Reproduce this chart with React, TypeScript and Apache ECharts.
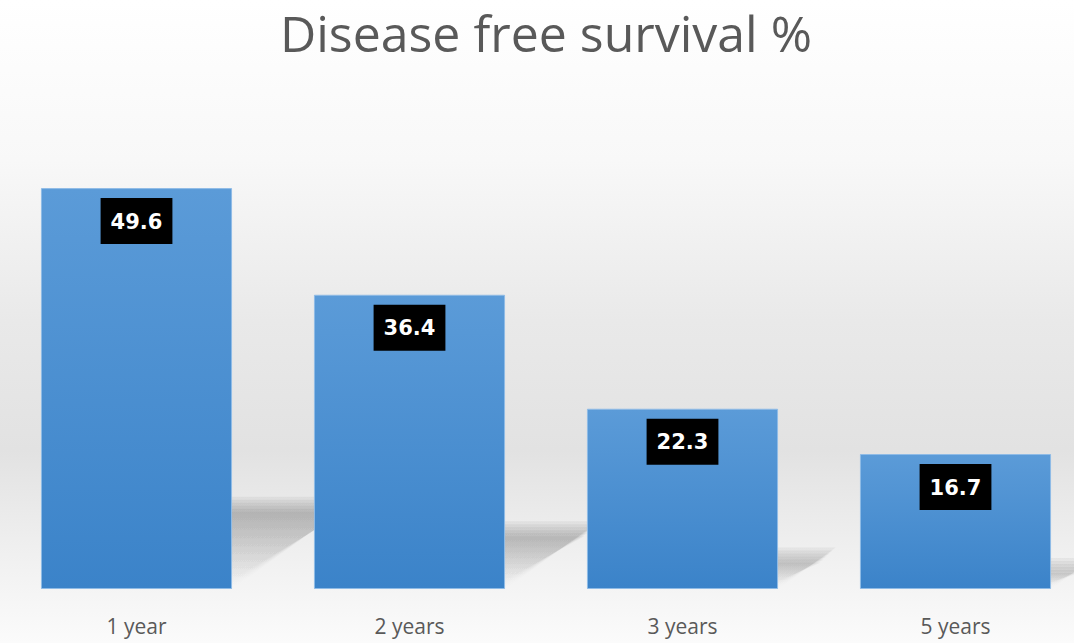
import React, { useEffect, useRef } from "react";
import * as echarts from "echarts";

const categories = ["1 year", "2 years", "3 years", "5 years"];
const values = [49.6, 36.4, 22.3, 16.7];
const titleText = "Disease free survival %";

export default function App() {
  const ref = useRef<HTMLDivElement>(null);
  useEffect(() => {
    const chart = echarts.init(ref.current!, undefined, { renderer: "svg" });
    chart.setOption({
      animation: false,
      backgroundColor: new echarts.graphic.LinearGradient(0, 0, 0, 1, [
        { offset: 0, color: "#ffffff" },
        { offset: 0.25, color: "#f8f8f8" },
        { offset: 0.5, color: "#e9e9e9" },
        { offset: 0.7, color: "#e2e2e2" },
        { offset: 0.85, color: "#efefef" },
        { offset: 1, color: "#fbfbfb" },
      ]),
      title: {
        text: titleText,
        left: "center",
        top: 3,
        textStyle: {
          fontFamily: "Open Sans",
          fontSize: 50,
          fontWeight: "normal",
          color: "#595959",
        },
      },
      grid: { left: 0, right: 0, top: 104, bottom: 54, containLabel: false },
      xAxis: {
        type: "category",
        data: categories,
        axisLine: { show: false },
        axisTick: { show: false },
        axisLabel: {
          margin: 26,
          fontFamily: "Open Sans",
          fontSize: 21,
          color: "#595959",
        },
      },
      yAxis: {
        type: "value",
        min: 0,
        max: 60,
        show: false,
        splitLine: { show: false },
      },
      series: [
        {
          type: "custom",
          z: 1,
          silent: true,
          data: values.map((v, i) => [i, v]),
          renderItem: (params: any, api: any) => {
            const base = api.coord([api.value(0), 0]);
            const top = api.coord([api.value(0), api.value(1)]);
            const band = api.size([1, 0])[0];
            const bw = band * 0.7;
            const h = base[1] - top[1];
            const xl = base[0] - bw / 2;
            const xr = base[0] + bw / 2;
            const y0 = base[1];
            const sh = h * 0.23;
            const dx = h * 0.32;
            const layers = [] as any[];
            for (let k = 0; k < 6; k++) {
              const g = k * 3;
              layers.push({
                type: "polygon",
                shape: {
                  points: [
                    [xl, y0 - g * 0.3],
                    [xr - g * 0.5, y0 - g * 0.3],
                    [xr + dx - g, y0 - sh + g],
                    [xl + dx, y0 - sh + g],
                  ],
                },
                style: {
                  fill: new echarts.graphic.LinearGradient(0, 0, 0, 1, [
                    { offset: 0, color: "rgba(0,0,0,0.05)" },
                    { offset: 1, color: "rgba(0,0,0,0.0)" },
                  ]),
                },
              });
            }
            return { type: "group", children: layers };
          },
        },
        {
          type: "bar",
          z: 2,
          data: values,
          barCategoryGap: "30%",
          itemStyle: {
            color: new echarts.graphic.LinearGradient(0, 0, 0, 1, [
              { offset: 0, color: "#5b9bd8" },
              { offset: 1, color: "#3b83c9" },
            ]),
            borderColor: "#8fbbe6",
            borderWidth: 1,
          },
          label: {
            show: true,
            position: "insideTop",
            distance: 10,
            backgroundColor: "#000000",
            padding: [13, 10, 12, 10],
            color: "#ffffff",
            fontFamily: "DejaVu Sans",
            fontWeight: "bold",
            fontSize: 21,
            formatter: (p: any) => p.value.toFixed(1),
          },
        },
      ],
    });
    return () => chart.dispose();
  }, []);
  return (
    <div
      style={{
        position: "fixed",
        left: 0,
        top: 0,
        width: 1074,
        height: 643,
        overflow: "hidden",
      }}
    >
      <div ref={ref} style={{ width: 1092, height: 643 }} />
    </div>
  );
}
